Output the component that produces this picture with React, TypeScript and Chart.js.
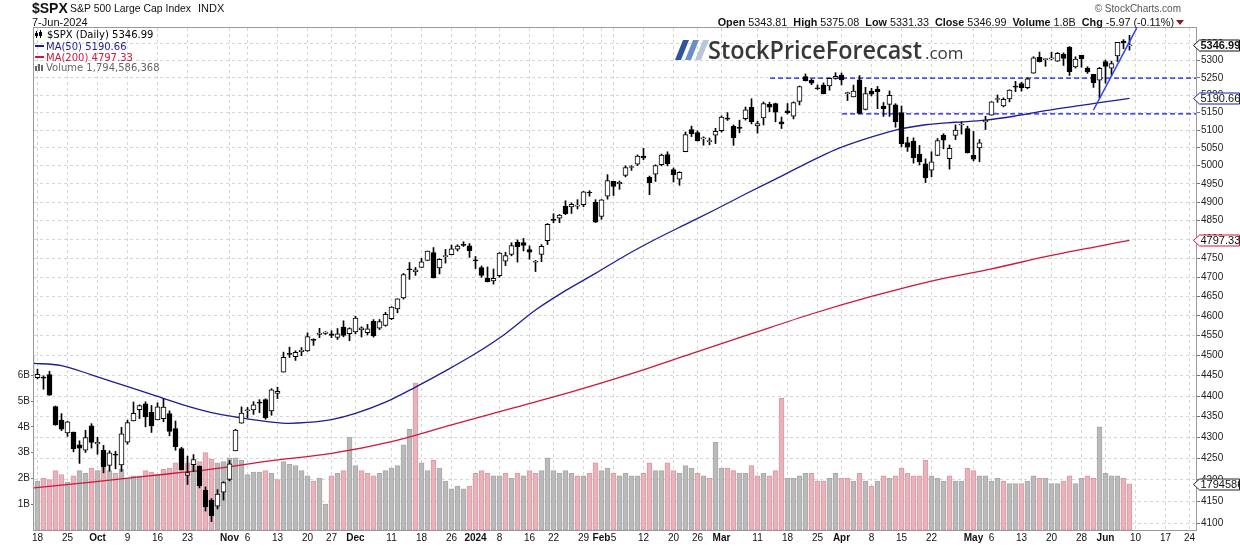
import React, { useEffect, useRef } from "react";
import { Chart, registerables } from "chart.js";
Chart.register(...registerables);

// ---- Daily OHLC (index 0 = 15-Sep-2023 ... 183 = 7-Jun-2024) ----
const OPEN = [4497.98,4445.13,4445.41,4452.81,4374.36,4341.74,4310.62,4312.88,4282.63,4269.65,4328.18,
4284.52,4269.75,4233.83,4259.31,4234.79,4289.02,4339.75,4366.59,4380.94,4360.49,4342.37,4345.23,4357.35,4321.36,4273.85,4210.40,4235.79,4232.42,4175.99,4152.93,4139.39,4171.33,
4201.27,4268.26,4334.23,4364.27,4366.21,4384.37,4391.41,4364.15,4406.66,4458.97,4505.30,4497.08,4509.55,4511.70,4538.77,4553.04,4555.84,4554.86,4545.55,4571.84,4554.87,
4559.43,4564.37,4557.25,4586.23,4568.84,4576.20,4593.39,4618.30,4646.20,4721.04,4714.23,4725.58,4743.72,4764.73,4724.29,4753.92,4758.86,4773.45,4786.44,4782.88,
4745.20,4725.07,4697.42,4690.57,4703.70,4741.93,4759.94,4792.13,4791.18,4772.35,4739.13,4760.10,4796.28,4853.42,4856.80,4888.56,4886.66,4888.91,4892.95,4925.89,4899.19,
4861.11,4916.06,4957.19,4950.16,4973.05,4995.16,5004.17,5026.83,4967.94,4976.44,5003.14,5031.13,4989.32,4963.03,5038.83,5100.92,5093.00,5074.60,5067.20,5085.36,
5098.51,5130.99,5110.52,5108.03,5132.38,5164.46,5111.96,5134.30,5173.49,5175.14,5123.31,5154.77,5139.09,5181.69,5253.43,5242.48,5219.52,5228.85,5226.31,5248.03,
5257.97,5204.29,5194.37,5244.05,5158.95,5211.37,5217.03,5167.88,5172.95,5171.51,5149.67,5064.59,5068.97,5031.52,5005.44,4987.33,5028.85,5084.86,5019.88,5084.65,5114.13,5103.78,
5029.03,5049.32,5122.78,5142.42,5187.20,5168.76,5189.03,5225.49,5233.08,5221.10,5263.26,5310.07,5303.10,5305.35,5298.69,5319.28,5340.26,5281.45,5315.91,5278.73,5259.77,5243.21,
5297.15,5278.24,5314.48,5357.80,5343.81];
const HIGH = [4497.98,4466.36,4449.85,4461.03,4375.70,4357.40,4338.51,4313.01,4292.07,4317.27,4333.15,
4300.58,4281.15,4268.50,4267.13,4324.10,4341.73,4385.46,4378.64,4385.85,4377.10,4383.33,4393.57,4364.20,4339.54,4276.56,4255.84,4259.38,4232.42,4183.60,4156.70,4177.47,4195.55,
4245.64,4319.72,4373.62,4372.21,4386.26,4391.20,4393.40,4418.03,4421.76,4508.67,4521.17,4511.99,4520.12,4557.11,4542.14,4568.43,4560.31,4562.41,4568.14,4587.64,4569.89,
4599.39,4572.37,4578.56,4590.74,4590.92,4609.23,4623.70,4643.93,4709.69,4738.57,4725.53,4749.52,4768.69,4778.01,4748.71,4772.94,4784.72,4785.39,4793.30,4788.43,
4754.33,4729.29,4726.78,4721.49,4764.54,4765.47,4790.80,4798.50,4802.40,4782.34,4744.23,4785.79,4842.07,4868.41,4866.48,4903.68,4898.15,4906.69,4929.31,4931.09,4906.75,
4906.97,4975.29,4957.19,4957.77,4999.89,5000.40,5030.06,5048.39,4971.30,5002.52,5032.72,5038.70,4993.71,4983.21,5094.39,5111.06,5097.66,5080.69,5077.37,5104.99,
5140.33,5149.67,5114.54,5127.97,5165.62,5189.26,5124.66,5179.87,5179.14,5176.85,5136.86,5175.60,5180.31,5226.19,5261.10,5246.09,5229.09,5235.16,5249.26,5264.85,
5263.95,5208.34,5228.75,5256.59,5222.18,5219.57,5224.81,5178.43,5211.78,5175.03,5168.43,5079.84,5077.96,5056.66,5019.02,5038.84,5076.12,5089.48,5057.75,5114.62,5123.49,5110.83,
5096.12,5073.21,5139.12,5181.00,5200.23,5191.95,5215.30,5239.66,5237.26,5250.37,5311.76,5325.49,5305.45,5325.32,5324.32,5323.18,5341.88,5311.65,5315.91,5282.26,5260.21,5280.33,
5302.11,5298.80,5354.16,5362.35,5375.08];
const LOW = [4447.21,4442.11,4416.61,4401.38,4329.17,4316.49,4302.70,4265.98,4238.63,4264.38,4274.86,
4260.21,4216.45,4220.48,4225.91,4219.55,4283.79,4339.64,4345.34,4325.43,4311.97,4342.37,4337.54,4303.84,4269.69,4223.03,4189.22,4219.43,4181.42,4127.90,4103.78,4132.94,4153.12,
4197.74,4268.26,4334.23,4347.53,4355.41,4359.76,4343.94,4353.34,4393.82,4458.97,4495.31,4487.83,4499.66,4510.36,4525.51,4545.05,4552.80,4545.05,4540.51,4547.15,4537.24,
4554.71,4546.72,4551.68,4546.50,4565.22,4574.06,4590.49,4608.09,4643.23,4694.34,4704.69,4725.58,4743.72,4697.82,4708.35,4736.77,4758.45,4768.90,4780.98,4751.99,
4722.67,4699.71,4687.53,4682.11,4699.82,4730.35,4756.20,4739.58,4768.98,4747.12,4714.82,4740.57,4785.87,4844.05,4844.37,4865.94,4869.34,4881.47,4887.40,4916.27,4845.15,
4853.52,4907.99,4918.09,4934.88,4969.05,4987.09,5000.34,5016.83,4920.31,4956.45,4999.44,4999.52,4955.02,4946.00,5038.83,5081.46,5068.91,5057.29,5058.35,5061.89,
5094.16,5127.18,5056.82,5092.22,5128.21,5117.50,5091.14,5114.48,5151.88,5123.30,5104.35,5145.47,5131.59,5171.55,5240.66,5229.87,5216.09,5203.42,5213.92,5245.82,
5229.20,5184.05,5194.37,5146.06,5157.21,5197.35,5160.78,5138.70,5138.77,5107.94,5052.47,5039.83,5007.25,5001.89,4953.56,4969.40,5027.96,5047.02,4990.58,5073.14,5088.65,5035.31,
5013.45,5011.05,5101.22,5142.42,5178.96,5165.86,5180.41,5209.68,5211.16,5217.98,5263.26,5296.19,5283.59,5302.40,5297.87,5286.01,5256.93,5278.39,5280.89,5262.70,5222.10,5191.68,
5234.32,5257.63,5297.64,5335.36,5331.33];
const CLOSE = [4450.32,4453.53,4443.95,4402.20,4330.00,4320.06,4337.44,4273.53,4274.51,4299.70,4288.05,
4288.39,4229.45,4263.75,4258.19,4308.50,4335.66,4358.24,4376.95,4349.61,4327.78,4373.63,4373.20,4314.60,4278.00,4224.16,4217.04,4247.68,4186.77,4137.23,4117.37,4166.82,4193.80,
4237.86,4317.78,4358.34,4365.98,4378.38,4382.78,4347.35,4415.24,4411.55,4495.70,4502.88,4508.24,4514.02,4547.38,4538.19,4556.62,4559.34,4550.43,4554.89,4550.58,4567.80,
4594.63,4569.78,4567.18,4549.34,4585.59,4604.37,4622.44,4643.70,4707.09,4719.55,4719.19,4740.56,4768.37,4698.35,4746.75,4754.63,4774.75,4781.58,4783.35,4769.83,
4742.83,4704.81,4688.68,4697.24,4763.54,4756.50,4783.45,4780.24,4783.83,4765.98,4739.21,4780.94,4839.81,4850.43,4864.60,4868.55,4894.16,4890.97,4927.93,4924.97,4845.65,
4906.19,4958.61,4942.81,4954.23,4995.06,4997.91,5026.61,5021.84,4953.17,5000.62,5029.73,5005.57,4975.51,4981.80,5087.03,5088.80,5069.53,5078.18,5069.76,5096.27,
5137.08,5130.95,5078.65,5104.76,5157.36,5123.69,5117.94,5175.27,5165.31,5150.48,5117.09,5149.42,5178.51,5224.62,5241.53,5234.18,5218.19,5203.58,5248.49,5254.35,
5243.77,5205.81,5211.49,5147.21,5204.34,5202.39,5209.91,5160.64,5199.06,5123.41,5061.82,5051.41,5022.21,5011.12,4967.23,5010.60,5070.55,5071.63,5048.42,5099.96,5116.17,5035.69,
5018.39,5064.20,5127.79,5180.74,5187.70,5187.67,5214.08,5222.68,5221.42,5246.68,5308.15,5297.10,5303.27,5308.13,5321.41,5307.01,5267.84,5304.72,5306.04,5266.95,5235.48,5277.51,
5283.40,5291.34,5354.03,5352.96,5346.99];
const PREV_CLOSE = 4505.10; // close of 14-Sep-2023
// Volume in billions of shares
const VOLUME = [4.2,
1.9,2.0,1.95,2.3,2.15,1.85,2.1,2.3,2.2,2.4,
2.3,2.4,2.3,2.2,2.35,2.0,2.1,2.1,2.3,2.25,2.15,2.35,2.4,2.6,2.5,2.6,2.5,2.65,3.0,2.75,2.6,2.65,
2.8,2.8,2.7,2.15,2.25,2.25,2.3,2.2,1.95,2.65,2.55,2.5,2.3,2.1,1.9,2.0,1.0,2.1,2.2,2.3,3.6,
2.5,2.3,2.2,2.1,2.2,2.3,2.4,2.5,3.3,3.9,5.7,2.6,2.3,2.7,2.4,1.9,1.6,1.7,1.6,1.7,
2.2,2.3,2.2,2.1,2.1,2.2,2.0,2.2,2.1,2.3,2.2,2.3,2.8,2.3,2.2,2.3,2.2,2.1,2.1,2.2,2.6,
2.3,2.4,2.2,2.1,2.2,2.1,2.1,2.2,2.6,2.3,2.3,2.6,2.3,2.2,2.5,2.4,2.2,2.1,2.0,3.4,
2.4,2.4,2.3,2.2,2.2,2.5,2.1,2.2,2.1,2.3,5.1,2.0,2.0,2.1,2.2,2.2,1.9,1.9,2.0,2.2,
2.0,2.0,1.9,2.2,1.9,1.7,1.9,2.1,2.0,2.1,2.4,2.2,2.1,2.1,2.7,2.1,2.0,1.9,2.1,1.9,1.9,2.4,
2.3,2.1,2.1,1.9,2.0,1.9,1.8,1.8,1.8,1.9,2.1,2.0,2.0,1.8,1.8,1.9,2.1,1.8,2.0,2.1,2.0,4.0,
2.2,2.1,2.1,2.0,1.794586368];

// Moving averages read at weekly points (x = day index)
const MA_IDX = [0,5,10,15,20,25,30,35,40,43,46,50,54,59,64,69,74,79,84,89,94,99,104,109,114,119,124,129,134,139,144,149,154,159,164,169,174,178,183];
const MA50 = [4481,4475,4452,4428,4404,4380,4360,4347,4337,4334,4336,4343,4358,4385,4422,4462,4505,4555,4615,4665,4710,4757,4800,4840,4880,4922,4963,5005,5045,5075,5100,5115,5122,5128,5140,5155,5168,5178,5190.66];
const MA200_IDX = [0,10,20,30,40,50,60,70,80,90,100,110,120,130,140,150,160,170,178,183];
const MA200 = [4181,4195,4210,4225,4245,4262,4290,4330,4370,4410,4455,4505,4555,4605,4650,4690,4722,4757,4782,4797.33];

// Annotations (x = day index, y = price)
const RES_LINE = { from: 123.1, to: 194.1, level: 5249 };
const SUP_LINE = { from: 135.1, to: 194.1, level: 5146 };
const TREND = [{ x: 177, y: 5157 }, { x: 184.2, y: 5397 }];

// X-axis labels
const TICK_IDX = [1,6,11,16,21,26,33,36,41,46,50,54,60,65,70,74,78,83,87,92,95,97,102,107,111,115,121,126,131,135,140,145,150,157,160,165,170,175,179,184,189,193];
const TICK_TXT = ["18","25","Oct","9","16","23","Nov","6","13","20","27","Dec","11","18","26","2024","8","16","22","29","Feb","5","12","20","26","Mar","11","18","25","Apr","8","15","22","May","6","13","20","28","Jun","10","17","24"];
const PRICE_TICKS = [4100,4150,4200,4250,4300,4350,4400,4450,4500,4550,4600,4650,4700,4750,4800,4850,4900,4950,5000,5050,5100,5150,5200,5250,5300,5350];
const VOL_TICKS = [1,2,3,4,5,6];

const FONT = '"Liberation Sans", Arial, sans-serif';
const LFONT = '"DejaVu Sans", Verdana, sans-serif';

export default function App() {
  const ref = useRef<HTMLCanvasElement>(null);
  useEffect(() => {
    const canvas = ref.current!;
    const labelMap = new Map<number, string>();
    TICK_IDX.forEach((v, k) => labelMap.set(v, TICK_TXT[k]));
    const isBold = (t: string) => /[A-Za-z]/.test(t) || t === "2024";

    const volData = VOLUME.map((v, i) => ({ x: i, y: v * 1e9 }));
    const down = CLOSE.map((c, i) => c < (i === 0 ? PREV_CLOSE : CLOSE[i - 1]));
    const volFill = down.map((d) => (d ? "#eab3bb" : "#bababa"));
    const volEdge = down.map((d) => (d ? "#dc98a3" : "#a8a8a8"));
    const wicks = HIGH.map((h, i) => ({ x: i, y: [LOW[i], h] }));
    const bodies = OPEN.map((o, i) => ({ x: i, y: [o, CLOSE[i]] }));
    const bodyFill = OPEN.map((o, i) => (CLOSE[i] >= o ? "#ffffff" : "#000000"));

    const decor = {
      id: "decor",
      beforeDatasetsDraw(chart: any) {
        const ctx = chart.ctx;
        ctx.save();
        // watermark logo
        const cols = ["#2f5597", "#6d8fc8", "#b7c6d8"];
        for (let k = 0; k < 3; k++) {
          const x = 675 + k * 10;
          ctx.fillStyle = cols[k];
          ctx.beginPath();
          ctx.moveTo(x, 60);
          ctx.lineTo(x + 6, 60);
          ctx.lineTo(x + 14, 40);
          ctx.lineTo(x + 8, 40);
          ctx.closePath();
          ctx.fill();
        }
        ctx.fillStyle = "#383838";
        ctx.font = '600 25px "Open Sans", sans-serif';
        ctx.textBaseline = "alphabetic";
        ctx.textAlign = "left";
        ctx.fillText("StockPriceForecast", 708, 59, 214);
        ctx.font = '400 17px "Open Sans", sans-serif';
        ctx.fillText(".com", 925, 59, 40);
        ctx.restore();
      },
      afterDraw(chart: any) {
        const ctx = chart.ctx;
        const a = chart.chartArea;
        ctx.save();
        // frame
        ctx.strokeStyle = "#9a9a9a";
        ctx.lineWidth = 1;
        ctx.strokeRect(a.left - 0.5, a.top - 0.5, a.right - a.left + 1, a.bottom - a.top + 1);
        // header
        ctx.textBaseline = "alphabetic";
        ctx.textAlign = "left";
        ctx.fillStyle = "#111";
        ctx.font = `bold 14px ${FONT}`;
        ctx.fillText("$SPX", 32, 13);
        ctx.font = `11px ${FONT}`;
        ctx.fillText("S&P 500 Large Cap Index", 70, 12, 121);
        ctx.fillText("INDX", 198, 12);
        ctx.fillText("7-Jun-2024", 32, 26);
        ctx.fillStyle = "#555";
        ctx.font = `10px ${FONT}`;
        ctx.textAlign = "right";
        ctx.fillText("\u00A9 StockCharts.com", 1181, 12);
        ctx.textAlign = "left";
        const parts: [string, boolean][] = [
          ["Open ", true], ["5343.81  ", false], ["High ", true], ["5375.08  ", false],
          ["Low ", true], ["5331.33  ", false], ["Close ", true], ["5346.99  ", false],
          ["Volume ", true], ["1.8B  ", false], ["Chg ", true], ["-5.97 (-0.11%)", false],
        ];
        let w = 0;
        for (const [t, b] of parts) {
          ctx.font = `${b ? "bold " : ""}10.8px ${FONT}`;
          w += ctx.measureText(t).width;
        }
        let x = 1174 - w;
        ctx.fillStyle = "#111";
        for (const [t, b] of parts) {
          ctx.font = `${b ? "bold " : ""}10.8px ${FONT}`;
          ctx.fillText(t, x, 25.5);
          x += ctx.measureText(t).width;
        }
        ctx.fillStyle = "#8b1a2b";
        ctx.beginPath();
        ctx.moveTo(1176, 20); ctx.lineTo(1184, 20); ctx.lineTo(1180, 25); ctx.closePath();
        ctx.fill();

        // legend
        ctx.font = `10px ${LFONT}`;
        ctx.fillStyle = "#000";
        ctx.fillRect(36, 31, 1, 7);
        ctx.fillRect(35, 33, 3, 3);
        ctx.fillRect(40, 30, 1, 8);
        ctx.strokeStyle = "#000";
        ctx.strokeRect(39.5, 32.5, 2, 3);
        ctx.fillText("$SPX (Daily) 5346.99", 47, 38);
        ctx.fillStyle = "#1d1d96";
        ctx.fillRect(35, 45, 9, 2);
        ctx.fillText("MA(50) 5190.66", 46, 49.5);
        ctx.fillStyle = "#d0173a";
        ctx.fillRect(35, 56, 9, 2);
        ctx.fillText("MA(200) 4797.33", 46, 61);
        ctx.fillStyle = "#666";
        ctx.fillRect(35, 66, 2, 5);
        ctx.fillRect(38, 64, 2, 7);
        ctx.fillRect(41, 65, 2, 6);
        ctx.fillText("Volume 1,794,586,368", 46, 71);

        // value tags on right axis
        const ys = chart.scales.y;
        const yv = chart.scales.yv;
        const tag = (y: number, text: string, color: string, bold: boolean) => {
          const x0 = a.right - 2.5, xb = a.right + 3.5, x1 = 1239.5, h = 11;
          const yy = Math.round(y) + 0.5;
          ctx.beginPath();
          ctx.moveTo(x0, yy);
          ctx.lineTo(xb, yy - h / 2);
          ctx.lineTo(x1, yy - h / 2);
          ctx.lineTo(x1, yy + h / 2);
          ctx.lineTo(xb, yy + h / 2);
          ctx.closePath();
          ctx.fillStyle = "#fff";
          ctx.fill();
          ctx.strokeStyle = color;
          ctx.lineWidth = 1;
          ctx.stroke();
          ctx.fillStyle = "#111";
          ctx.font = `${bold ? "bold " : ""}11px ${FONT}`;
          ctx.textBaseline = "middle";
          ctx.fillText(text, xb + 1, yy + 0.5);
        };
        const lastC = CLOSE[CLOSE.length - 1];
        const lastV = VOLUME[VOLUME.length - 1] * 1e9;
        tag(ys.getPixelForValue(MA200[MA200.length - 1]), MA200[MA200.length - 1].toFixed(2), "#d0173a", false);
        tag(ys.getPixelForValue(MA50[MA50.length - 1]), MA50[MA50.length - 1].toFixed(2), "#1d1d96", false);
        tag(yv.getPixelForValue(lastV), String(Math.round(lastV)), "#222", false);
        tag(ys.getPixelForValue(lastC), lastC.toFixed(2), "#111", true);
        ctx.restore();
      },
    };

    const chart = new Chart(canvas, {
      type: "bar",
      data: {
        datasets: [
          {
            type: "bar", label: "Volume", data: volData as any, xAxisID: "x", yAxisID: "yv",
            backgroundColor: volFill, borderColor: volEdge, borderWidth: 1, borderSkipped: false,
            barThickness: 5, grouped: false, order: 10,
          },
          {
            type: "line", label: "MA200", data: MA200_IDX.map((x, k) => ({ x, y: MA200[k] })) as any,
            xAxisID: "x", yAxisID: "y", borderColor: "#d0173a", borderWidth: 1.3, pointRadius: 0,
            cubicInterpolationMode: "monotone", order: 8,
          },
          {
            type: "line", label: "MA50", data: MA_IDX.map((x, k) => ({ x, y: MA50[k] })) as any,
            xAxisID: "x", yAxisID: "y", borderColor: "#1d1d96", borderWidth: 1.3, pointRadius: 0,
            cubicInterpolationMode: "monotone", order: 7,
          },
          {
            type: "line", label: "res", data: [{ x: RES_LINE.from, y: RES_LINE.level }, { x: RES_LINE.to, y: RES_LINE.level }] as any,
            xAxisID: "x", yAxisID: "y", borderColor: "#1010f0", borderWidth: 1.2, borderDash: [5, 3], pointRadius: 0, order: 6,
          },
          {
            type: "line", label: "sup", data: [{ x: SUP_LINE.from, y: SUP_LINE.level }, { x: SUP_LINE.to, y: SUP_LINE.level }] as any,
            xAxisID: "x", yAxisID: "y", borderColor: "#1010f0", borderWidth: 1.2, borderDash: [5, 3], pointRadius: 0, order: 6,
          },
          {
            type: "bar", label: "wick", data: wicks as any, xAxisID: "x", yAxisID: "y",
            backgroundColor: "#000", borderWidth: 0, barThickness: 1, grouped: false, order: 4,
          },
          {
            type: "bar", label: "body", data: bodies as any, xAxisID: "x", yAxisID: "y",
            backgroundColor: bodyFill, borderColor: "#000", borderWidth: 1, borderSkipped: false,
            barThickness: 5, minBarLength: 1, grouped: false, order: 3,
          },
          {
            type: "line", label: "trend", data: TREND as any, xAxisID: "x", yAxisID: "y",
            borderColor: "#2a44f0", borderWidth: 1.5, pointRadius: 0, order: 1,
          },
        ],
      },
      options: {
        responsive: false,
        animation: false,
        events: [],
        devicePixelRatio: 1,
        layout: { padding: { top: 28, left: 0, right: 0, bottom: 0 }, autoPadding: false } as any,
        plugins: { legend: { display: false }, tooltip: { enabled: false } },
        scales: {
          x: {
            type: "linear", min: 0.41667, max: 194.0833, offset: false,
            grid: { color: "#d6d6d6", drawTicks: false, offset: false } as any,
            border: { display: false, dash: [3, 3] },
            afterBuildTicks: (s: any) => { s.ticks = TICK_IDX.map((v) => ({ value: v })); },
            afterFit: (s: any) => { s.height = 16; s.paddingLeft = 0; s.paddingRight = 0; },
            ticks: {
              autoSkip: false, maxRotation: 0, minRotation: 0, padding: 2, color: "#111",
              callback: (v: any) => labelMap.get(v) ?? "",
              font: (c: any) => ({ family: FONT, size: 10, weight: isBold(labelMap.get(c.tick?.value) ?? "") ? "bold" : "normal" }),
            } as any,
          },
          y: {
            type: "logarithmic", position: "right", min: 4084.8, max: 5397.1,
            grid: { color: "#d6d6d6", drawTicks: true, tickLength: 4, tickColor: "#777" },
            border: { display: false, dash: [3, 3] },
            afterBuildTicks: (s: any) => { s.ticks = PRICE_TICKS.map((v) => ({ value: v })); },
            afterFit: (s: any) => { s.width = 44; s.paddingTop = 0; s.paddingBottom = 0; },
            ticks: { padding: 1, color: "#222", font: { family: FONT, size: 10 }, callback: (v: any) => String(v) },
          },
          yv: {
            type: "linear", position: "left", min: 0, max: 19.46e9,
            grid: { display: true, drawOnChartArea: false, drawTicks: true, tickLength: 3, tickColor: "#777" },
            border: { display: false },
            afterBuildTicks: (s: any) => { s.ticks = VOL_TICKS.map((v) => ({ value: v * 1e9 })); },
            afterFit: (s: any) => { s.width = 34; s.paddingTop = 0; s.paddingBottom = 0; },
            ticks: { padding: 1, color: "#222", font: { family: FONT, size: 10 }, callback: (v: any) => Math.round(v / 1e9) + "B" },
          },
        },
      } as any,
      plugins: [decor],
    });
    return () => chart.destroy();
  }, []);
  return (
    <div style={{ position: "absolute", left: 0, top: 0, width: 1240, height: 546, background: "#fff" }}>
      <canvas ref={ref} width={1240} height={546} style={{ display: "block", width: 1240, height: 546 }} />
    </div>
  );
}
